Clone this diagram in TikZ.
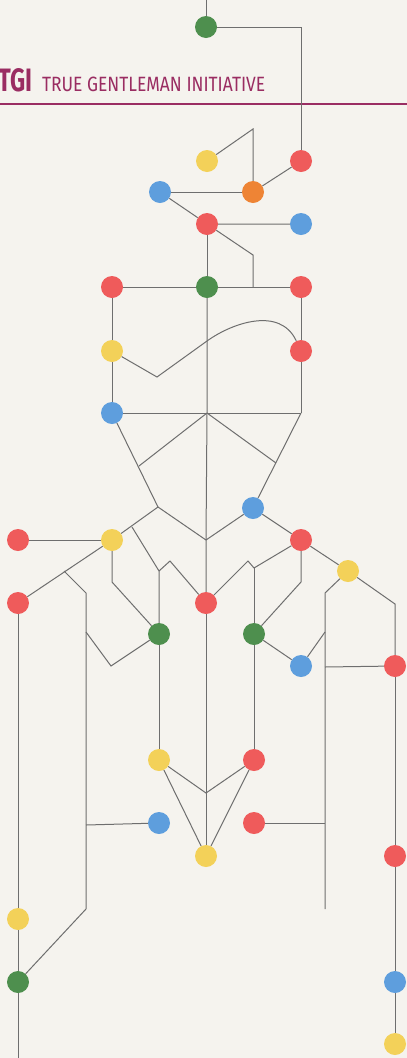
\documentclass[tikz,border=0pt]{standalone}
\usepackage{fontspec}
\usepackage{graphicx}
\newfontfamily\headfont{Fira Sans}
\usetikzlibrary{calc}
\definecolor{bgpaper}{HTML}{F5F3EE}
\definecolor{dotred}{HTML}{EF5B5B}
\definecolor{dotyellow}{HTML}{F3D159}
\definecolor{dotgreen}{HTML}{4E8F4E}
\definecolor{dotblue}{HTML}{5E9EDD}
\definecolor{dotorange}{HTML}{EE8435}
\definecolor{tgimagenta}{HTML}{9A2D62}
\definecolor{wire}{HTML}{6E6E6E}
\begin{document}
\begin{tikzpicture}[x=1pt,y=-1pt,
  dot/.style={circle,inner sep=0,minimum size=22pt,fill=#1},
  link/.style={draw=wire,line width=1pt}]
\fill[bgpaper] (0,0) rectangle (407,1058);
\useasboundingbox (0,0) rectangle (407,1058);
% header
\node[anchor=base west,inner sep=0,text=tgimagenta] (tgi) at (-2,91) {\resizebox{34pt}{23pt}{\headfont\bfseries TGI}};
\node[anchor=base west,inner sep=0,text=tgimagenta] (title) at (42,91) {\resizebox{223pt}{14.5pt}{\headfont TRUE GENTLEMAN INITIATIVE}};
\draw[tgimagenta,line width=2pt] (0,104) -- (407,104);
% dots
\node[dot=dotgreen] (g1) at (206,27) {};
\node[dot=dotyellow] (y1) at (207,161) {};
\node[dot=dotred] (r1) at (301,161) {};
\node[dot=dotorange] (o1) at (253,192) {};
\node[dot=dotblue] (b1) at (160,192) {};
\node[dot=dotred] (r2) at (207,224) {};
\node[dot=dotblue] (b2) at (301,224) {};
\node[dot=dotred] (r3) at (112,287) {};
\node[dot=dotgreen] (g2) at (207,287) {};
\node[dot=dotred] (r4) at (301,287) {};
\node[dot=dotyellow] (y2) at (112,351) {};
\node[dot=dotred] (r5) at (301,351) {};
\node[dot=dotblue] (b3) at (112,413) {};
\node[dot=dotblue] (b4) at (253,508) {};
\node[dot=dotred] (r6) at (18,540) {};
\node[dot=dotyellow] (y3) at (112,540) {};
\node[dot=dotred] (r7) at (301,540) {};
\node[dot=dotyellow] (y4) at (348,571) {};
\node[dot=dotred] (r8) at (18,603) {};
\node[dot=dotred] (r9) at (206,603) {};
\node[dot=dotgreen] (g3) at (159,634) {};
\node[dot=dotgreen] (g4) at (254,634) {};
\node[dot=dotblue] (b5) at (301,666) {};
\node[dot=dotred] (r10) at (395,666) {};
\node[dot=dotyellow] (y5) at (159,760) {};
\node[dot=dotred] (r11) at (254,760) {};
\node[dot=dotblue] (b6) at (159,823) {};
\node[dot=dotred] (r12) at (254,823) {};
\node[dot=dotyellow] (y6) at (206,856) {};
\node[dot=dotred] (r13) at (395,856) {};
\node[dot=dotyellow] (y7) at (18,919) {};
\node[dot=dotgreen] (g5) at (18,982) {};
\node[dot=dotblue] (b7) at (395,982) {};
\node[dot=dotyellow] (y8) at (395,1044) {};
% bends
\coordinate (top) at (206,0);
\coordinate (bottom) at (18,1058);
\coordinate (k1) at (301,27);
\coordinate (k2) at (253,129);
\coordinate (k3) at (253,255);
\coordinate (k4) at (253,287);
\coordinate (k5) at (157,377);
\coordinate (k6) at (207,341);
\coordinate (k7) at (207,413);
\coordinate (k8) at (301,413);
\coordinate (k9) at (139,466);
\coordinate (k10) at (276,463);
\coordinate (k11) at (158,507);
\coordinate (k12) at (206,540);
\coordinate (k13) at (132,527);
\coordinate (k14) at (159,571);
\coordinate (k15) at (170,561);
\coordinate (k16) at (248,561);
\coordinate (k17) at (254,568);
\coordinate (k18) at (112,582);
\coordinate (k19) at (301,582);
\coordinate (k20) at (64,571);
\coordinate (k21) at (86,593);
\coordinate (k22) at (86,632);
\coordinate (k23) at (111,666);
\coordinate (k24) at (86,825);
\coordinate (k25) at (86,909);
\coordinate (k26) at (325,593);
\coordinate (k27) at (325,632);
\coordinate (k28) at (325,667);
\coordinate (k29) at (325,823);
\coordinate (k30) at (325,909);
\coordinate (k31) at (395,604);
\coordinate (k32) at (206,793);
% wires
\path[link] (top) -- (g1);
\path[link] (g1) -- (k1) -- (r1);
\path[link] (y1) -- (k2) -- (o1) -- (r1);
\path[link] (b1) -- (o1);
\path[link] (b1) -- (r2) -- (b2);
\path[link] (r2) -- (k3) -- (k4);
\path[link] (r2) -- (g2);
\path[link] (r3) -- (g2) -- (r4);
\path[link] (r3) -- (y2) -- (b3);
\path[link] (r4) -- (r5) -- (k8);
\path[link] (y2) -- (k5) -- (k6) .. controls (232,323) and (280,306) .. (r5);
\path[link] (g2) -- (k7) -- (k12) -- (r9);
\path[link] (b3) -- (k8);
\path[link] (k7) -- (k9);
\path[link] (k7) -- (k10);
\path[link] (b3) -- (k11);
\path[link] (k8) -- (b4);
\path[link] (k11) -- (y3);
\path[link] (k11) -- (k12);
\path[link] (b4) -- (k12);
\path[link] (b4) -- (r7);
\path[link] (r6) -- (y3);
\path[link] (y3) -- (r8);
\path[link] (k20) -- (k21) -- (k25) -- (g5);
\path[link] (k22) -- (k23) -- (g3);
\path[link] (y3) -- (k18) -- (g3);
\path[link] (k13) -- (k14) -- (g3);
\path[link] (k14) -- (k15) -- (r9);
\path[link] (r9) -- (k16) -- (k17) -- (r7);
\path[link] (k17) -- (g4);
\path[link] (r7) -- (k19) -- (g4);
\path[link] (g4) -- (b5);
\path[link] (b5) -- (k27);
\path[link] (y4) -- (k26) -- (k30);
\path[link] (r7) -- (y4);
\path[link] (y4) -- (k31) -- (r10);
\path[link] (k28) -- (r10);
\path[link] (r8) -- (y7) -- (g5) -- (bottom);
\path[link] (k24) -- (b6);
\path[link] (g3) -- (y5);
\path[link] (g4) -- (r11);
\path[link] (r9) -- (y6);
\path[link] (y5) -- (k32) -- (r11);
\path[link] (y5) -- (y6) -- (r11);
\path[link] (r12) -- (k29);
\path[link] (r10) -- (r13) -- (b7) -- (y8);
\end{tikzpicture}
\end{document}
